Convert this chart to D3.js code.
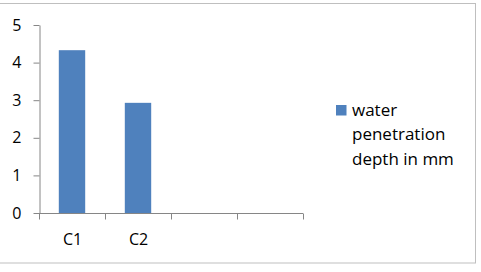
<!DOCTYPE html>
<html>
<head>
<meta charset="utf-8">
<script src="https://cdn.jsdelivr.net/npm/d3@7"></script>
<style>
  body { margin: 0; background: #fff; }
  text { font-family: "Open Sans", sans-serif; fill: #000; }
</style>
</head>
<body>
<div id="chart"></div>
<script>
// data
var categories = ["C1", "C2", "", ""];
var depthValues = [4.33, 2.93, null, null];
var yTicks = [0, 1, 2, 3, 4, 5];
var seriesName = ["water", "penetration", "depth in mm"];

var width = 481, height = 272;
var margin = { top: 25, left: 39, right: 178, bottom: 59 };
var innerW = width - margin.left - margin.right;
var innerH = height - margin.top - margin.bottom;

var svg = d3.select("#chart").append("svg")
    .attr("width", width)
    .attr("height", height);

// outer frame (left edge off the picture)
svg.append("rect")
    .attr("x", -2).attr("y", 3.5)
    .attr("width", 477.5).attr("height", 259.5)
    .attr("fill", "none")
    .attr("stroke", "#bfbfbf");

var g = svg.append("g")
    .attr("transform", "translate(" + margin.left + "," + margin.top + ")");

var x = d3.scaleBand()
    .domain(d3.range(categories.length))
    .range([0, innerW])
    .paddingInner(0.6)
    .paddingOuter(0.3);

var y = d3.scaleLinear()
    .domain([0, 5])
    .range([innerH, 0]);

// bars
g.selectAll("rect.bar")
    .data(depthValues.map(function(v, i) { return { i: i, v: v }; })
        .filter(function(d) { return d.v != null; }))
    .enter().append("rect")
    .attr("class", "bar")
    .attr("x", function(d) { return x(d.i); })
    .attr("y", function(d) { return y(d.v); })
    .attr("width", x.bandwidth())
    .attr("height", function(d) { return innerH - y(d.v); })
    .attr("fill", "#4f81bd");

// y axis
var yAxis = g.append("g")
    .attr("transform", "translate(0.5,0)")
    .call(d3.axisLeft(y).tickValues(yTicks).tickFormat(d3.format("d"))
        .tickSize(6).tickPadding(12).tickSizeOuter(0));
yAxis.select(".domain").attr("stroke", "#868686");
yAxis.selectAll(".tick line").attr("stroke", "#868686");
yAxis.selectAll(".tick text")
    .style("font-size", "16px")
    .attr("fill", "#000");

// x axis: ticks at the band boundaries
var step = x.step();
var xEdges = d3.range(categories.length + 1).map(function(i) { return i * step; });
var xAxis = g.append("g")
    .attr("transform", "translate(0," + (innerH + 0.5) + ")");
xAxis.append("line")
    .attr("x1", 0).attr("x2", innerW)
    .attr("stroke", "#868686");
xAxis.selectAll("line.tk")
    .data(xEdges)
    .enter().append("line")
    .attr("class", "tk")
    .attr("x1", function(d) { return Math.round(d) + 0.5; })
    .attr("x2", function(d) { return Math.round(d) + 0.5; })
    .attr("y1", 0).attr("y2", 6)
    .attr("stroke", "#868686");
xAxis.selectAll("text")
    .data(categories)
    .enter().append("text")
    .attr("x", function(d, i) { return x(i) + x.bandwidth() / 2 + 0.5; })
    .attr("y", 31.5)
    .attr("text-anchor", "middle")
    .style("font-size", "16px")
    .text(function(d) { return d; });

// legend
var legend = svg.append("g");
legend.append("rect")
    .attr("x", 336).attr("y", 105)
    .attr("width", 10.5).attr("height", 10.5)
    .attr("fill", "#4f81bd");
legend.selectAll("text")
    .data(seriesName)
    .enter().append("text")
    .attr("x", 352)
    .attr("y", function(d, i) { return 115.5 + i * 24.5; })
    .style("font-size", "17px")
    .text(function(d) { return d; });
</script>
</body>
</html>
